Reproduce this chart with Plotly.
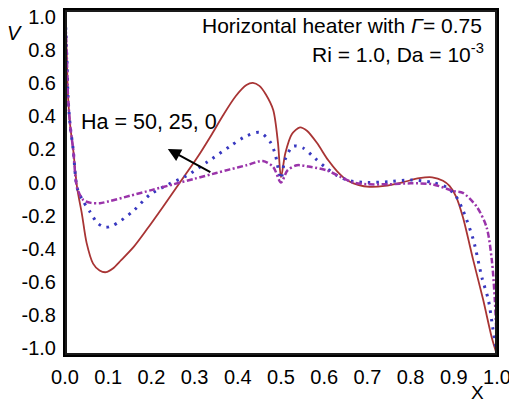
import plotly.graph_objects as go

# Ha = 0 (solid red)
x_ha0 = [0, 0.004, 0.007, 0.012, 0.019, 0.028, 0.039, 0.05, 0.065, 0.08, 0.095, 0.11, 0.13, 0.16, 0.19,
         0.227, 0.266, 0.305, 0.34, 0.366, 0.395, 0.42, 0.435, 0.45, 0.465, 0.482, 0.493, 0.5, 0.51, 0.525,
         0.544, 0.56, 0.583, 0.609, 0.63, 0.652, 0.68, 0.705, 0.74, 0.78, 0.82, 0.85, 0.875, 0.89, 0.905,
         0.921, 0.945, 0.968, 0.988, 1.0]
v_ha0 = [1.0, 0.75, 0.5, 0.33, 0.19, -0.03, -0.18, -0.35, -0.47, -0.51, -0.52, -0.5, -0.45, -0.37, -0.27,
         -0.14, 0.0, 0.14, 0.28, 0.39, 0.5, 0.565, 0.577, 0.56, 0.51, 0.42, 0.23, 0.03, 0.17, 0.28,
         0.32, 0.3, 0.23, 0.13, 0.065, 0.015, -0.015, -0.025, -0.02, 0.0, 0.025, 0.03, 0.01, -0.02, -0.08,
         -0.2, -0.45, -0.68, -0.9, -1.0]

# Ha = 25 (blue dotted)
x_ha25 = [0, 0.004, 0.007, 0.012, 0.019, 0.028, 0.04, 0.058, 0.075, 0.093, 0.11, 0.13, 0.16, 0.197, 0.24,
          0.282, 0.33, 0.382, 0.42, 0.451, 0.475, 0.486, 0.5, 0.509, 0.528, 0.551, 0.579, 0.602, 0.63, 0.66,
          0.7, 0.75, 0.8, 0.85, 0.885, 0.905, 0.921, 0.945, 0.965, 0.98, 0.99, 1.0]
v_ha25 = [1.0, 0.75, 0.5, 0.33, 0.19, -0.03, -0.1, -0.17, -0.235, -0.26, -0.25, -0.22, -0.16, -0.07, -0.01,
          0.04, 0.12, 0.21, 0.27, 0.29, 0.235, 0.17, 0.02, 0.13, 0.21, 0.2, 0.14, 0.09, 0.04, 0.01,
          0.0, 0.005, 0.015, 0.0, -0.03, -0.08, -0.16, -0.33, -0.55, -0.68, -0.84, -1.0]

# Ha = 50 (purple dash-dot)
x_ha50 = [0, 0.004, 0.007, 0.012, 0.019, 0.028, 0.042, 0.06, 0.081, 0.1, 0.15, 0.2, 0.25, 0.3, 0.35,
          0.382, 0.42, 0.458, 0.482, 0.5, 0.515, 0.537, 0.57, 0.606, 0.64, 0.667, 0.7, 0.75, 0.8, 0.85,
          0.9, 0.921, 0.953, 0.976, 0.988, 0.995, 0.999, 1.0]
v_ha50 = [1.0, 0.75, 0.5, 0.33, 0.19, -0.03, -0.1, -0.118, -0.12, -0.11, -0.077, -0.044, -0.011, 0.022, 0.055,
          0.076, 0.1, 0.125, 0.09, 0.0, 0.07, 0.10, 0.09, 0.07, 0.03, 0.0, -0.01, -0.01, -0.005, -0.01,
          -0.05, -0.06, -0.14, -0.26, -0.45, -0.68, -0.9, -1.0]

x_tickvals = [0.0, 0.1, 0.2, 0.3, 0.4, 0.5, 0.6, 0.7, 0.8, 0.9, 1.0]
x_ticktext = ["0.0", "0.1", "0.2", "0.3", "0.4", "0.5", "0.6", "0.7", "0.8", "0.9", "1.0"]
y_tickvals = [-1.0, -0.8, -0.6, -0.4, -0.2, 0.0, 0.2, 0.4, 0.6, 0.8, 1.0]
y_ticktext = ["-1.0", "-0.8", "-0.6", "-0.4", "-0.2", "0.0", "0.2", "0.4", "0.6", "0.8", "1.0"]

X_RANGE = [0.0, 1.0]
Y_RANGE = [-1.0, 1.0]

FONT = "Liberation Sans, Arial, sans-serif"

fig = go.Figure()
fig.add_trace(go.Scatter(x=x_ha0, y=v_ha0, mode="lines", name="Ha = 0",
                         line=dict(color="#a83434", width=1.8, shape="spline", smoothing=0.8)))
fig.add_trace(go.Scatter(x=x_ha25, y=v_ha25, mode="lines", name="Ha = 25",
                         line=dict(color="#3838c0", width=3, dash="2.5px,6px", shape="spline", smoothing=0.8)))
fig.add_trace(go.Scatter(x=x_ha50, y=v_ha50, mode="lines", name="Ha = 50",
                         line=dict(color="#9a34aa", width=2.5, dash="6px,2.5px,2px,2.5px", shape="spline", smoothing=0.8)))

# plot frame, built from the axis ranges (half of the stroke is clipped at the plot edge)
fig.add_trace(go.Scatter(
    x=[X_RANGE[0], X_RANGE[1], X_RANGE[1], X_RANGE[0], X_RANGE[0]],
    y=[Y_RANGE[0], Y_RANGE[0], Y_RANGE[1], Y_RANGE[1], Y_RANGE[0]],
    mode="lines", line=dict(color="#1a1a1a", width=4), hoverinfo="skip", showlegend=False))

# invisible trace on overlay axis that carries the (slightly compressed) V tick labels
fig.add_trace(go.Scatter(x=[0.5], y=[0], yaxis="y2", mode="markers", marker=dict(opacity=0),
                         hoverinfo="skip", showlegend=False))

fig.update_layout(
    width=509, height=405,
    margin=dict(l=65, r=12, t=10, b=50, autoexpand=False),
    paper_bgcolor="white", plot_bgcolor="white",
    showlegend=False,
    font=dict(family=FONT, color="black", size=20),
    xaxis=dict(range=X_RANGE, tickvals=x_tickvals, ticktext=x_ticktext, showgrid=False, zeroline=False,
               showline=True, linecolor="black", linewidth=2, mirror=True, ticklabeloverflow="allow",
               automargin=False, ticklabelstandoff=3, tickfont=dict(size=20, family=FONT)),
    yaxis=dict(range=Y_RANGE, showticklabels=False, showgrid=False, zeroline=False,
               showline=True, linecolor="black", linewidth=2, mirror=True, automargin=False),
    yaxis2=dict(range=[-1.045, 1.045], overlaying="y", side="left", tickvals=y_tickvals, ticktext=y_ticktext,
                showgrid=False, zeroline=False, showline=False, ticks="", ticklabelstandoff=8,
                ticklabeloverflow="allow", automargin=False, tickfont=dict(size=20, family=FONT)),
)

fig.add_annotation(xref="paper", yref="paper", x=0.970, y=0.954, xanchor="right", yanchor="middle",
                   text="Horizontal heater with <i>Γ</i>= 0.75", showarrow=False, font=dict(size=21))
fig.add_annotation(xref="paper", yref="paper", x=0.974, y=0.875, xanchor="right", yanchor="middle",
                   text="Ri = 1.0, Da = 10<sup>-3</sup>", showarrow=False, font=dict(size=21))
fig.add_annotation(xref="paper", yref="paper", x=0.033, y=0.675, xanchor="left", yanchor="middle",
                   text="Ha = 50, 25, 0", showarrow=False, font=dict(size=21.5))
fig.add_annotation(x=0.238, y=0.194, ax=0.340, ay=0.055, axref="x", ayref="y", xref="x", yref="y",
                   text="", showarrow=True, arrowhead=2, arrowsize=1.3, arrowwidth=2, arrowcolor="black")
fig.add_annotation(xref="paper", yref="paper", x=-0.116, y=0.933, xanchor="center", yanchor="middle",
                   text="<i>V</i>", showarrow=False, font=dict(size=20))
fig.add_annotation(xref="paper", yref="paper", x=0.954, y=-0.110, xanchor="center", yanchor="middle",
                   text="X", showarrow=False, font=dict(size=19))

fig.write_html("out.html", config={"displayModeBar": False},
               post_script="document.body.style.margin='0';")
